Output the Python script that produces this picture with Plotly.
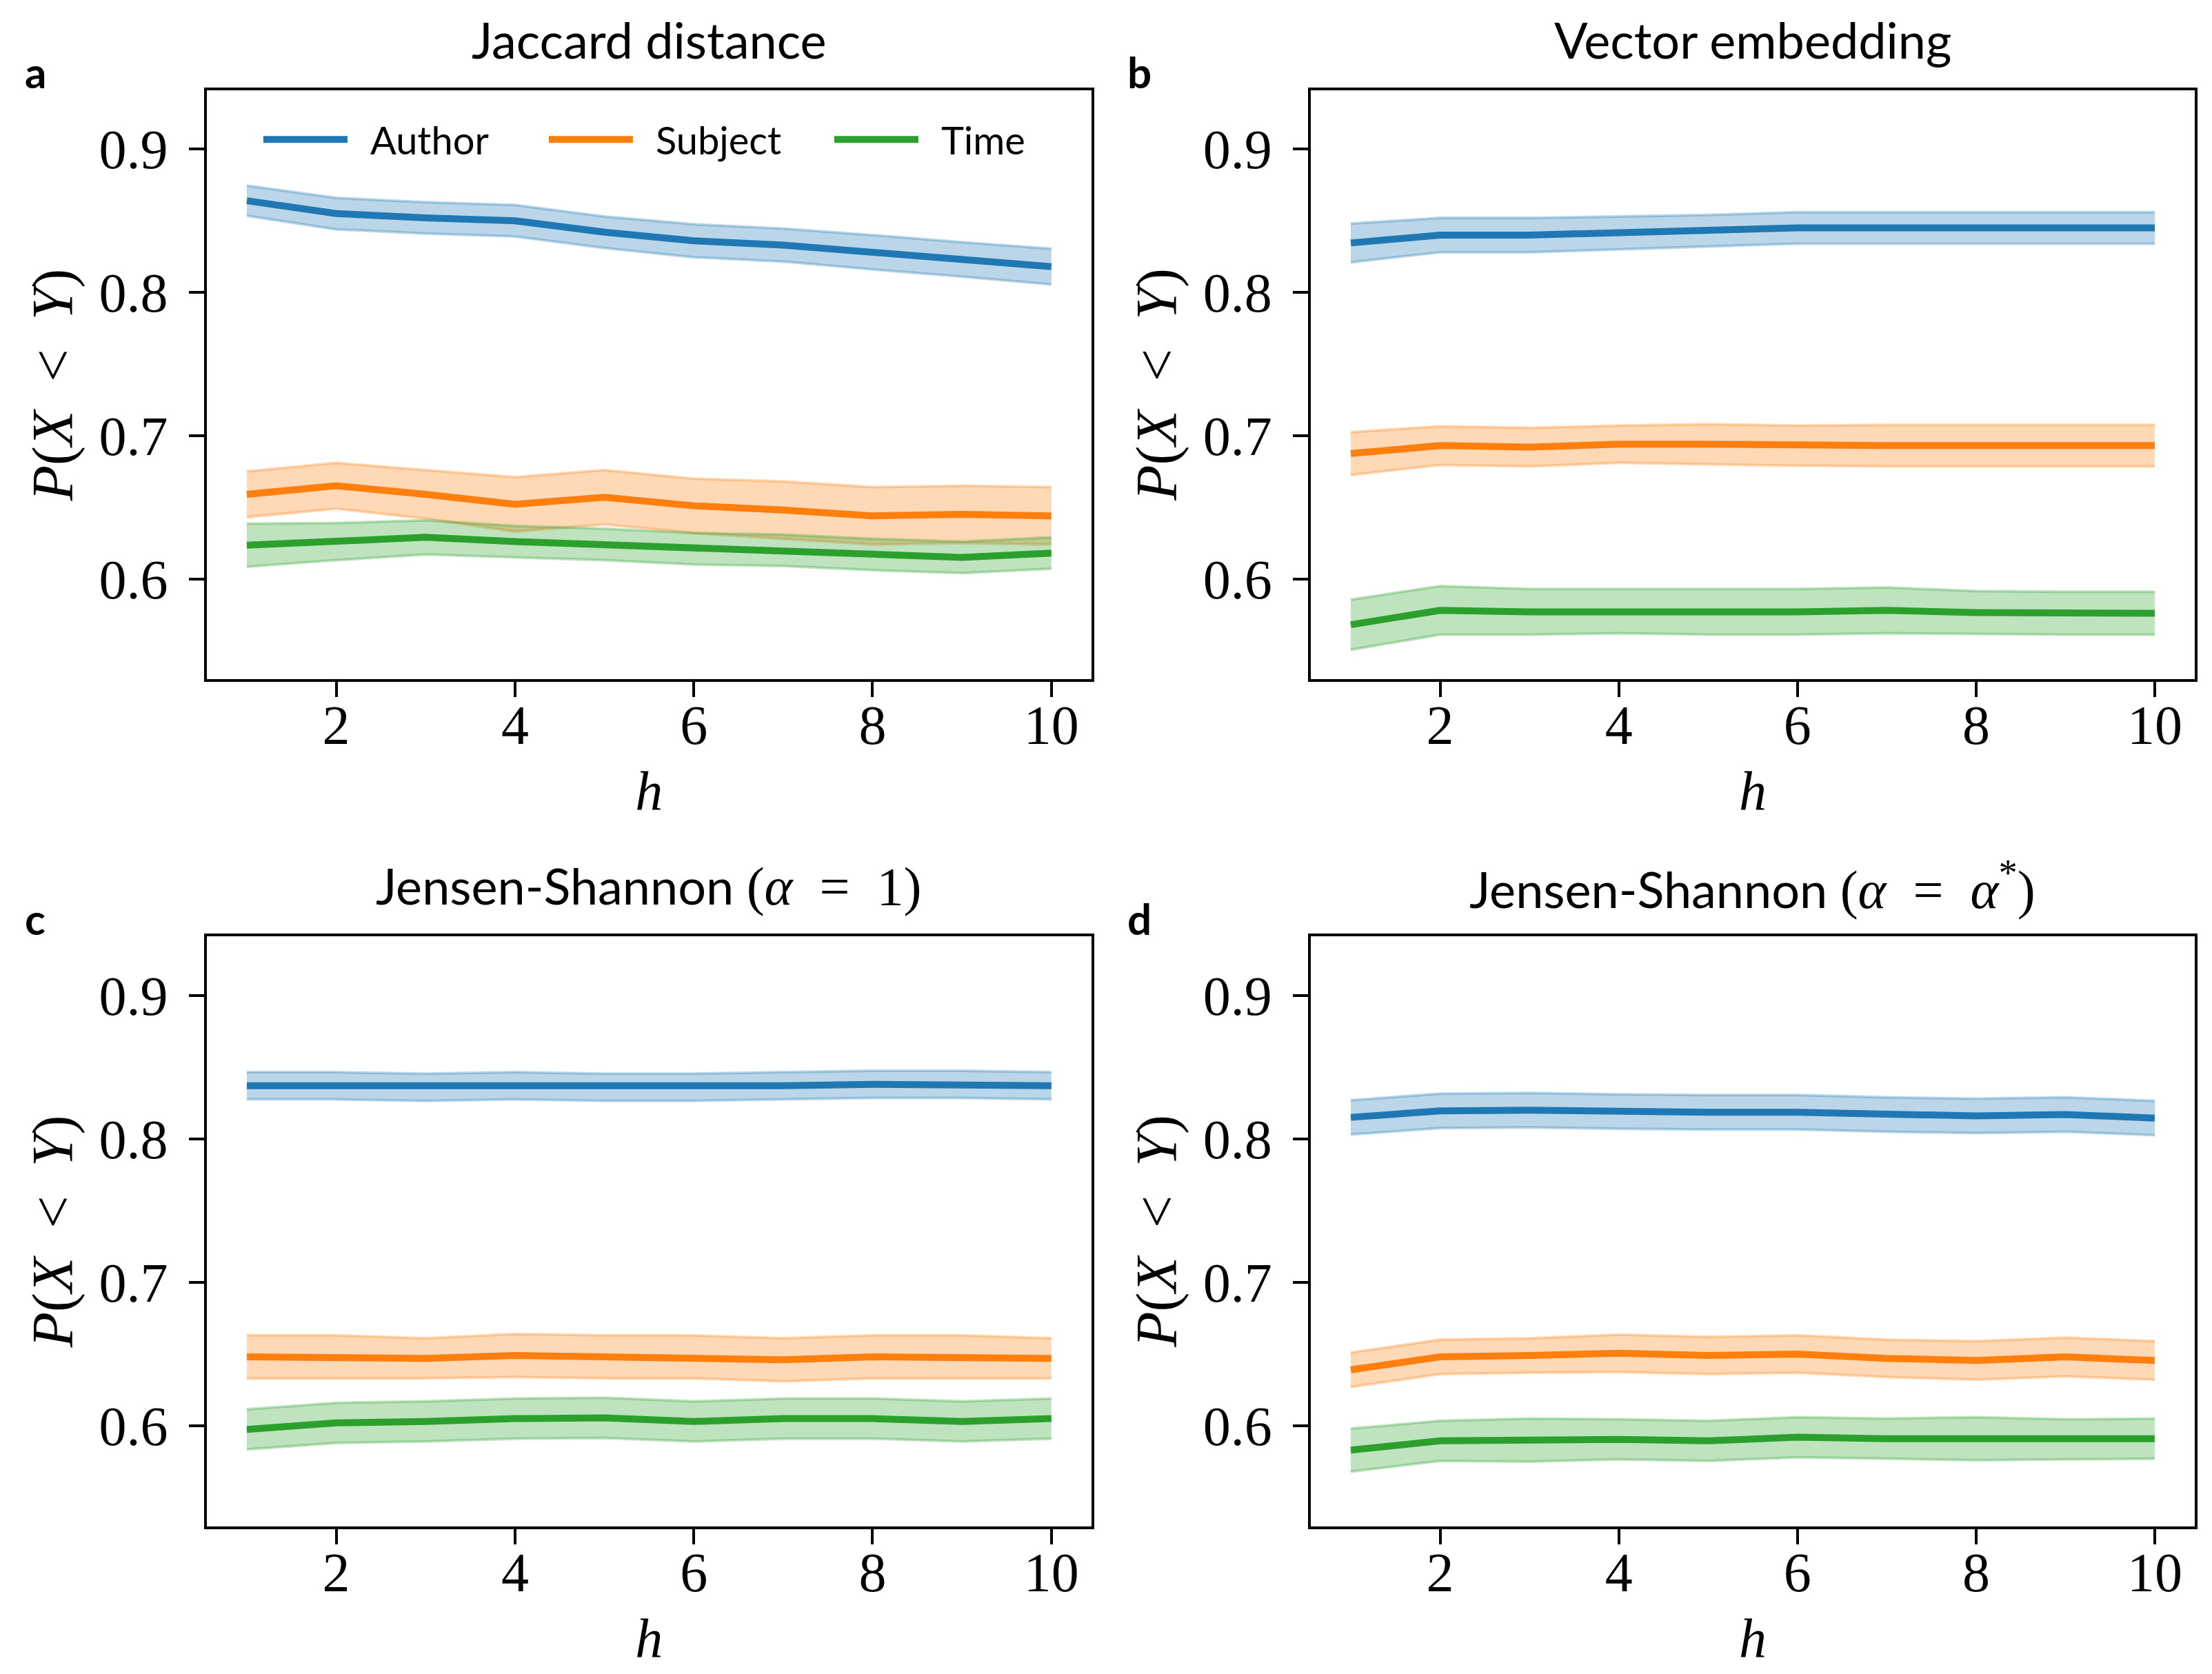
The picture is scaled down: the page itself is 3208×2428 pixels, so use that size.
import plotly.graph_objects as go

h = [1, 2, 3, 4, 5, 6, 7, 8, 9, 10]
series_names = ["Author", "Subject", "Time"]
line_colors = ["#1f77b4", "#ff7f0e", "#2ca02c"]
band_colors = ["rgba(31,119,180,0.3)", "rgba(255,127,14,0.3)", "rgba(44,160,44,0.3)"]

math_style = "font-family:Liberation Serif;font-size:78px"
panel_titles = [
    "Jaccard distance",
    "Vector embedding",
    "Jensen-Shannon <span style='" + math_style + "'>(<i>α</i>\u2002=\u20021)</span>",
    "Jensen-Shannon <span style='" + math_style + "'>(<i>α</i>\u2002=\u2002<i>α</i><sup>*</sup>)</span>",
]
panel_letters = ["a", "b", "c", "d"]
x_label = "<i>h</i>"
y_label = "<i>P</i>(<i>X</i>\u2002&lt;\u2002<i>Y</i>)"

# Panel a: Jaccard distance
jac_author = [0.864, 0.855, 0.852, 0.850, 0.842, 0.836, 0.833, 0.828, 0.823, 0.818]
jac_author_err = [0.0105, 0.011, 0.011, 0.011, 0.011, 0.0115, 0.0115, 0.012, 0.012, 0.0125]
jac_subject = [0.659, 0.665, 0.659, 0.652, 0.657, 0.651, 0.648, 0.644, 0.645, 0.644]
jac_subject_err = [0.016, 0.016, 0.017, 0.019, 0.019, 0.019, 0.020, 0.020, 0.020, 0.020]
jac_time = [0.6235, 0.626, 0.629, 0.626, 0.624, 0.621, 0.620, 0.617, 0.615, 0.618]
jac_time_err = [0.015, 0.013, 0.012, 0.011, 0.011, 0.011, 0.011, 0.011, 0.011, 0.011]

# Panel b: Vector embedding
vec_author = [0.8345, 0.840, 0.840, 0.8415, 0.843, 0.845, 0.845, 0.845, 0.845, 0.845]
vec_author_err = [0.0135, 0.012, 0.012, 0.0115, 0.011, 0.011, 0.011, 0.011, 0.011, 0.011]
vec_subject = [0.6875, 0.693, 0.692, 0.694, 0.694, 0.693, 0.693, 0.693, 0.693, 0.693]
vec_subject_err = [0.015, 0.0135, 0.0135, 0.013, 0.014, 0.014, 0.0145, 0.0145, 0.0145, 0.0145]
vec_time = [0.568, 0.578, 0.577, 0.5775, 0.577, 0.577, 0.578, 0.5765, 0.576, 0.576]
vec_time_err = [0.0175, 0.017, 0.016, 0.0155, 0.016, 0.016, 0.016, 0.015, 0.015, 0.015]

# Panel c: Jensen-Shannon (alpha = 1)
js1_author = [0.837, 0.837, 0.836, 0.837, 0.836, 0.836, 0.837, 0.838, 0.838, 0.837]
js1_author_err = [0.0095] * 10
js1_subject = [0.648, 0.648, 0.647, 0.649, 0.648, 0.648, 0.646, 0.648, 0.648, 0.647]
js1_subject_err = [0.015, 0.015, 0.014, 0.015, 0.015, 0.015, 0.015, 0.015, 0.015, 0.014]
js1_time = [0.5975, 0.602, 0.603, 0.605, 0.6055, 0.603, 0.605, 0.605, 0.603, 0.605]
js1_time_err = [0.014] * 10

# Panel d: Jensen-Shannon (alpha = alpha*)
jsa_author = [0.815, 0.8195, 0.820, 0.819, 0.8185, 0.8185, 0.817, 0.816, 0.817, 0.8145]
jsa_author_err = [0.012] * 10
jsa_subject = [0.639, 0.648, 0.649, 0.6505, 0.649, 0.650, 0.647, 0.6455, 0.648, 0.6455]
jsa_subject_err = [0.012, 0.012, 0.012, 0.013, 0.013, 0.013, 0.013, 0.0135, 0.0135, 0.0135]
jsa_time = [0.583, 0.5895, 0.590, 0.5905, 0.5895, 0.592, 0.591, 0.591, 0.5905, 0.591]
jsa_time_err = [0.015, 0.014, 0.015, 0.014, 0.014, 0.014, 0.014, 0.015, 0.014, 0.014]

panels = [
    [(jac_author, jac_author_err), (jac_subject, jac_subject_err), (jac_time, jac_time_err)],
    [(vec_author, vec_author_err), (vec_subject, vec_subject_err), (vec_time, vec_time_err)],
    [(js1_author, js1_author_err), (js1_subject, js1_subject_err), (js1_time, js1_time_err)],
    [(jsa_author, jsa_author_err), (jsa_subject, jsa_subject_err), (jsa_time, jsa_time_err)],
]

y_ticks = [0.6, 0.7, 0.8, 0.9]
x_ticks = [2, 4, 6, 8, 10]
y_range = [0.530, 0.941]
x_range = [0.55, 10.45]

W, H = 3208, 2428
x_domains = [[0.0909, 0.4910], [0.5900, 0.9898]]
y_domains = [[0.5976, 0.9493], [0.0916, 0.4438]]

fig = go.Figure()

for p, panel in enumerate(panels):
    ax = "" if p == 0 else str(p + 1)
    xref, yref = "x" + ax, "y" + ax
    for s, (mean, err) in enumerate(panel):
        lower = [m - e for m, e in zip(mean, err)]
        upper = [m + e for m, e in zip(mean, err)]
        fig.add_trace(go.Scatter(x=h, y=lower, mode="lines", xaxis=xref, yaxis=yref,
                                 line=dict(color=band_colors[s], width=4),
                                 showlegend=False, hoverinfo="skip"))
        fig.add_trace(go.Scatter(x=h, y=upper, mode="lines", xaxis=xref, yaxis=yref,
                                 line=dict(color=band_colors[s], width=4),
                                 fill="tonexty", fillcolor=band_colors[s],
                                 showlegend=False, hoverinfo="skip"))
    for s, (mean, err) in enumerate(panel):
        fig.add_trace(go.Scatter(x=h, y=mean, mode="lines", xaxis=xref, yaxis=yref,
                                 name="\u2002" + series_names[s],
                                 line=dict(color=line_colors[s], width=10),
                                 showlegend=(p == 0)))

serif = "Liberation Serif, DejaVu Serif, serif"
sans = "Lato, Open Sans, sans-serif"

layout = dict(
    width=W, height=H,
    margin=dict(l=0, r=0, t=0, b=0),
    paper_bgcolor="white", plot_bgcolor="white",
    showlegend=True,
    legend=dict(orientation="h", x=0.115, y=0.920, xanchor="left", yanchor="middle",
                traceorder="normal",
                font=dict(family=sans, size=56, color="black"),
                bgcolor="rgba(0,0,0,0)", entrywidth=277, entrywidthmode="pixels",
                itemwidth=122),
)

annotations = []
for p in range(4):
    r, c = divmod(p, 2)
    ax = "" if p == 0 else str(p + 1)
    layout["xaxis" + ax] = dict(
        domain=x_domains[c], anchor="y" + ax, range=x_range,
        tickmode="array", tickvals=x_ticks,
        ticks="outside", ticklen=22, tickwidth=4, tickcolor="black",
        ticklabelstandoff=-28,
        showline=True, linewidth=4, linecolor="black", mirror=True,
        showgrid=False, zeroline=False,
        tickfont=dict(family=serif, size=80, color="black"),
        title=dict(text=x_label, font=dict(family=serif, size=80, color="black"), standoff=24),
    )
    layout["yaxis" + ax] = dict(
        domain=y_domains[r], anchor="x" + ax, range=y_range,
        tickmode="array", tickvals=y_ticks, tickformat=".1f",
        ticks="outside", ticklen=22, tickwidth=4, tickcolor="black",
        ticklabelstandoff=14,
        showline=True, linewidth=4, linecolor="black", mirror=True,
        showgrid=False, zeroline=False,
        tickfont=dict(family=serif, size=80, color="black"),
    )
    xc = (x_domains[c][0] + x_domains[c][1]) / 2
    yc = (y_domains[r][0] + y_domains[r][1]) / 2
    annotations.append(dict(text=panel_titles[p], x=xc, y=y_domains[r][1] + 0.0304,
                            xref="paper", yref="paper", xanchor="center", yanchor="middle",
                            showarrow=False, font=dict(family=sans, size=72, color="black")))
    annotations.append(dict(text="<b>" + panel_letters[p] + "</b>",
                            x=[0.0135, 0.5125][c], y=y_domains[r][1] + 0.0111,
                            xref="paper", yref="paper", xanchor="center", yanchor="middle",
                            showarrow=False, font=dict(family=sans, size=62, color="black")))
    annotations.append(dict(text=y_label, textangle=-90,
                            x=[0.0216, 0.5205][c], y=yc,
                            xref="paper", yref="paper", xanchor="center", yanchor="middle",
                            showarrow=False, font=dict(family=serif, size=84, color="black")))

layout["annotations"] = annotations
fig.update_layout(**layout)
fig.write_html("out.html")
